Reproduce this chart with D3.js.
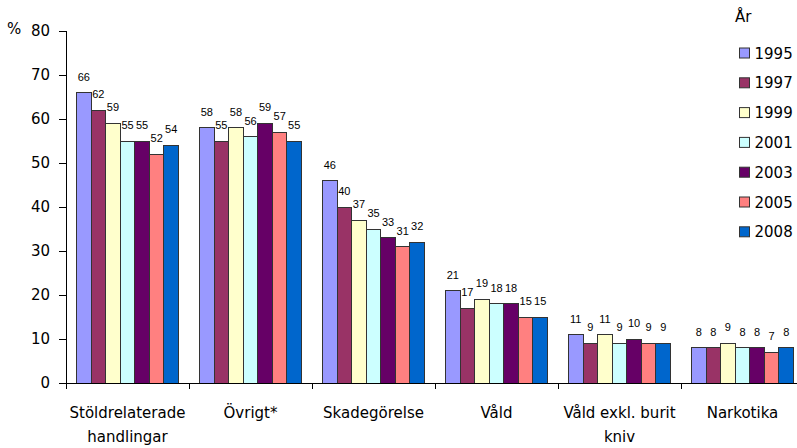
<!DOCTYPE html>
<meta charset="utf-8">
<style>
body { margin: 0; background: #fff; font-family: 'DejaVu Sans', sans-serif; }
.axis path, .axis line { stroke: #000; shape-rendering: crispEdges; }
.bar { stroke: #333; stroke-width: 1; shape-rendering: crispEdges; }
.lbl { font-size: 11px; fill: #000; font-family: Arial, 'Liberation Sans', sans-serif; }
</style>
<body>
<div id="chart"></div>
<script src="https://d3js.org/d3.v7.min.js"></script>
<script>
// data
var categories = [["Stöldrelaterade", "handlingar"], ["Övrigt*"], ["Skadegörelse"], ["Våld"], ["Våld exkl. burit", "kniv"], ["Narkotika"]];
var years = ["1995", "1997", "1999", "2001", "2003", "2005", "2008"];
var colors = ["#9999ff", "#993366", "#ffffcc", "#ccffff", "#660066", "#ff8080", "#0066cc"];
var v1995 = [66, 58, 46, 21, 11, 8];
var v1997 = [62, 55, 40, 17, 9, 8];
var v1999 = [59, 58, 37, 19, 11, 9];
var v2001 = [55, 56, 35, 18, 9, 8];
var v2003 = [55, 59, 33, 18, 10, 8];
var v2005 = [52, 57, 31, 15, 9, 7];
var v2008 = [54, 55, 32, 15, 9, 8];
var yTicks = [0, 10, 20, 30, 40, 50, 60, 70, 80];

var series = [v1995, v1997, v1999, v2001, v2003, v2005, v2008];

var width = 797, height = 448;
var svg = d3.select("#chart").append("svg")
    .attr("width", width)
    .attr("height", height);

var y = d3.scaleLinear().domain([0, 80]).range([383, 31]);
var x0 = d3.scaleBand().domain(d3.range(categories.length)).range([66, 804]);
var x1 = d3.scaleBand().domain(d3.range(years.length)).range([10.5, x0.bandwidth() - 10.5]);

// bars
var groups = svg.selectAll("g.grp")
    .data(categories)
  .enter().append("g")
    .attr("class", "grp")
    .attr("transform", function(d, i) { return "translate(" + x0(i) + ",0)"; });

groups.each(function(c, ci) {
  var g = d3.select(this);
  var rows = series.map(function(s, si) { return { si: si, v: s[ci] }; });
  g.selectAll("rect")
      .data(rows)
    .enter().append("rect")
      .attr("class", "bar")
      .attr("x", function(d) { return x1(d.si); })
      .attr("width", x1.bandwidth())
      .attr("y", function(d) { return y(d.v); })
      .attr("height", function(d) { return y(0) - y(d.v); })
      .style("fill", function(d) { return colors[d.si]; });
  g.selectAll("text")
      .data(rows)
    .enter().append("text")
      .attr("class", "lbl")
      .attr("x", function(d) { return x1(d.si) + x1.bandwidth() / 2; })
      .attr("y", function(d) { return y(d.v) - 12; })
      .attr("text-anchor", "middle")
      .text(function(d) { return d.v; });
});

// y axis
var yAxis = svg.append("g")
    .attr("class", "axis")
    .attr("transform", "translate(66,0)")
    .call(d3.axisLeft(y).tickValues(yTicks).tickSize(7).tickPadding(9));
yAxis.selectAll("text").style("font-size", "15px").style("font-family", "'DejaVu Sans', sans-serif").attr("fill", "#000");

svg.append("text")
    .attr("x", 7).attr("y", 34)
    .style("font-size", "15px")
    .text("%");

// x axis
var xg = svg.append("g").attr("class", "axis");
xg.append("line")
    .attr("x1", 66).attr("x2", 804)
    .attr("y1", y(0)).attr("y2", y(0));
xg.selectAll("line.tk")
    .data(d3.range(categories.length + 1))
  .enter().append("line")
    .attr("class", "tk")
    .attr("x1", function(i) { return 66 + i * x0.bandwidth(); })
    .attr("x2", function(i) { return 66 + i * x0.bandwidth(); })
    .attr("y1", y(0)).attr("y2", y(0) + 6);

var cl = svg.selectAll("text.cat")
    .data(categories)
  .enter().append("text")
    .attr("class", "cat")
    .attr("text-anchor", "middle")
    .style("font-size", "15px")
    .attr("x", function(d, i) { return x0(i) + x0.bandwidth() / 2; })
    .attr("y", 418);
cl.selectAll("tspan")
    .data(function(d) { return d; })
  .enter().append("tspan")
    .attr("x", function() { return d3.select(this.parentNode).attr("x"); })
    .attr("dy", function(d, i) { return i ? 24 : 0; })
    .text(function(d) { return d; });

// legend
svg.append("text")
    .attr("x", 735).attr("y", 22)
    .style("font-size", "15px")
    .text("År");
var leg = svg.selectAll("g.leg")
    .data(years)
  .enter().append("g")
    .attr("class", "leg")
    .attr("transform", function(d, i) { return "translate(739.5," + (53 + i * 29.8) + ")"; });
leg.append("rect")
    .attr("x", 0).attr("y", -5)
    .attr("width", 10).attr("height", 10)
    .attr("stroke", "#333")
    .style("fill", function(d, i) { return colors[i]; });
leg.append("text")
    .attr("x", 15).attr("y", 5.5)
    .style("font-size", "15px")
    .text(function(d) { return d; });
</script>
</body>
